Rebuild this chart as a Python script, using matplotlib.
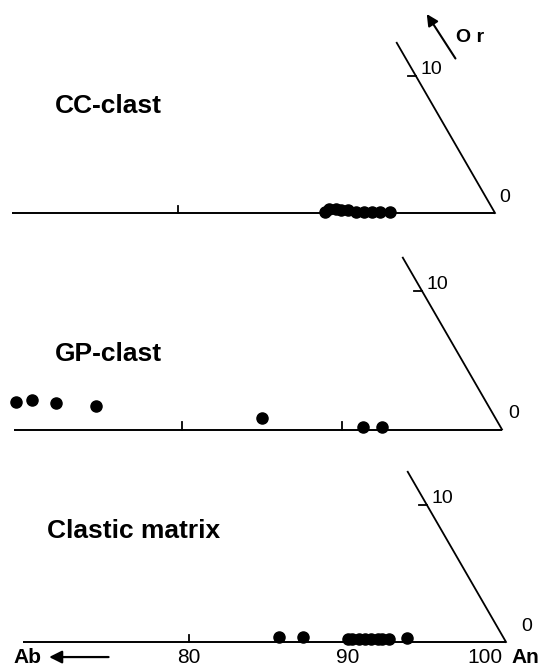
import numpy as np
import matplotlib
matplotlib.use('Agg')
import matplotlib.pyplot as plt

plt.rcParams['font.family'] = ['Liberation Sans', 'DejaVu Sans']

# feldspar compositions (mol %), An and Or; Ab is the rest
cc_an = [89.2, 89.4, 89.8, 90.2, 90.6, 91.2, 91.7, 92.2, 92.7, 93.3]
cc_or = [0.1, 0.3, 0.3, 0.2, 0.2, 0.1, 0.1, 0.1, 0.1, 0.1]

gp_an = [68.6, 69.6, 71.2, 73.8, 84.6, 91.2, 92.4]
gp_or = [2.0, 2.1, 1.9, 1.7, 0.8, 0.2, 0.2]

cm_an = [85.5, 87.0, 89.9, 90.2, 90.6, 91.0, 91.4, 91.8, 92.1, 92.5, 93.6]
cm_or = [0.35, 0.35, 0.2, 0.2, 0.2, 0.2, 0.2, 0.2, 0.2, 0.2, 0.3]

panel_names = ['CC-clast', 'GP-clast', 'Clastic matrix']
an_ticks = [80, 90]
an_labels = ['80', '90', '100']
or_tick = 10

W, H = 543, 669
fig = plt.figure(figsize=(W / 100, H / 100), dpi=100)

# layout in pixels: vertex x, baseline y, px per unit, box top, box bottom
layout = [
    (495, 213, 15.85, 0, 230),
    (502, 429.5, 16.0, 230, 450),
    (506, 642, 15.85, 450, 669),
]
title_pos = [(55, 113), (55, 361), (47, 538)]
zero_dx = [10, 12, 21]

S3 = np.sqrt(3) / 2


def tern(an, orr):
    an = np.asarray(an, dtype=float)
    orr = np.asarray(orr, dtype=float)
    return an + orr / 2, orr * S3


axes = []
for i, (xv, yb, s, top, bot) in enumerate(layout):
    ax = fig.add_axes([0, 1 - bot / H, 1, (bot - top) / H])
    ax.set_xlim(100 - xv / s, 100 + (W - xv) / s)
    ax.set_ylim((yb - bot) / s, (yb - top) / s)
    ax.axis('off')
    axes.append(ax)

    # An axis and Or axis
    ax.plot([69.5, 100], [0, 0], color='k', lw=1.4, solid_capstyle='butt')
    ox, oy = tern(100 - 12.4, 12.4)
    ax.plot([100, ox], [0, oy], color='k', lw=1.3)
    for t in an_ticks:
        ax.plot([t, t], [0, 0.45], color='k', lw=1.3)
    tx, ty = tern(100 - or_tick, or_tick)
    ax.plot([tx - 0.5, tx], [ty, ty], color='k', lw=1.3)
    ax.text(tx + 0.3, ty + 0.4, str(or_tick), fontsize=14, va='center', ha='left')
    ax.text(100 + zero_dx[i] / s, 1.0, '0', fontsize=14, va='center', ha='center')

    fig.text(title_pos[i][0] / W, 1 - title_pos[i][1] / H, panel_names[i],
             fontsize=19, fontweight='bold', va='baseline', ha='left')

for ax, an, orr in zip(axes, [cc_an, gp_an, cm_an], [cc_or, gp_or, cm_or]):
    x, y = tern(an, orr)
    ax.plot(x, y, 'o', color='k', markersize=8, clip_on=False)

# Or arrow in top panel
ax = axes[0]
ax.annotate('', xy=(95.6, 12.7), xytext=(97.6, 9.6),
            arrowprops=dict(arrowstyle='-|>', lw=1.5, color='k', mutation_scale=17))
ax.text(98.4, 11.1, 'O r', fontsize=14, fontweight='bold', va='center', ha='center')

# bottom labels
ax = axes[2]
yl = -1.35
ax.text(80, yl, an_labels[0], fontsize=15, ha='center', va='baseline')
ax.text(90, yl, an_labels[1], fontsize=15, ha='center', va='baseline')
ax.text(99.75, yl, an_labels[2], fontsize=15, ha='right', va='baseline')
ax.text(100.35, yl, 'An', fontsize=15, fontweight='bold', ha='left', va='baseline')
ax.text(68.9, yl, 'Ab', fontsize=15, fontweight='bold', ha='left', va='baseline')
ax.annotate('', xy=(71.0, -0.95), xytext=(75.1, -0.95),
            arrowprops=dict(arrowstyle='-|>', lw=1.6, color='k', mutation_scale=19))

fig.savefig('out.png', dpi=100)
